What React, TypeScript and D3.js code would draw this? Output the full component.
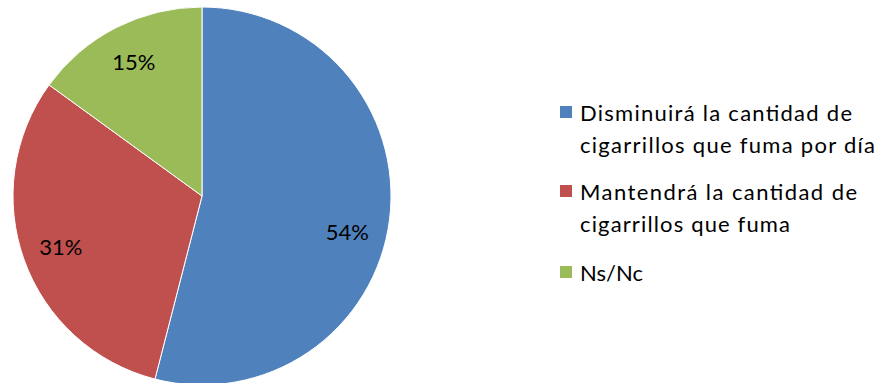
import React from "react";
import * as d3 from "d3";

const categories = [
  "Disminuirá la cantidad de cigarrillos que fuma por día",
  "Mantendrá la cantidad de cigarrillos que fuma",
  "Ns/Nc",
];
const legendLines = [
  ["Disminuirá la cantidad de", "cigarrillos que fuma por día"],
  ["Mantendrá la cantidad de", "cigarrillos que fuma"],
  ["Ns/Nc"],
];
const values = [54, 31, 15];
const labels = ["54%", "31%", "15%"];
const colors = ["#4F81BD", "#C0504D", "#9BBB59"];
const labelAngleShiftDeg = [7, 0, 0];
// measured widths of legend lines (layout)
const legendLineWidths = [
  [272, 295],
  [277, 210],
  [63],
];

const W = 883;
const H = 383;
const cx = 202;
const cy = 196;
const R = 189;
const FONT = "Lato, 'Open Sans', sans-serif";

export default function App() {
  const pie = d3.pie<number>().sort(null).value((d) => d);
  const arcs = pie(values);
  const arc = d3.arc<d3.PieArcDatum<number>>().innerRadius(0).outerRadius(R);

  const legendX = 560;
  const lineH = 32;
  const legendTops = [121, 200, 281];

  return (
    <svg
      width={W}
      height={H}
      style={{ position: "absolute", left: 0, top: 0, background: "#fff" }}
      fontFamily={FONT}
    >
      <g transform={`translate(${cx},${cy})`}>
        {arcs.map((a, i) => (
          <path key={i} d={arc(a) || ""} fill={colors[i]} stroke="#fff" strokeWidth={1} />
        ))}
        {arcs.map((a, i) => {
          const mid = (a.startAngle + a.endAngle) / 2 + (labelAngleShiftDeg[i] * Math.PI) / 180;
          const r = 150;
          const x = Math.sin(mid) * r;
          const y = -Math.cos(mid) * r;
          return (
            <text key={i} x={x} y={y} dy="0.35em" textAnchor="middle" fontSize={22} fill="#000">
              {labels[i]}
            </text>
          );
        })}
      </g>
      {categories.map((c, i) => (
        <g key={c}>
          <rect x={legendX} y={legendTops[i] - 15} width={12} height={12} fill={colors[i]} />
          {legendLines[i].map((ln, j) => (
            <text
              key={j}
              x={legendX + 20}
              y={legendTops[i] + j * lineH}
              fontSize={22}
              fill="#000"
              textLength={legendLineWidths[i][j]}
              lengthAdjust="spacing"
            >
              {ln}
            </text>
          ))}
        </g>
      ))}
    </svg>
  );
}
